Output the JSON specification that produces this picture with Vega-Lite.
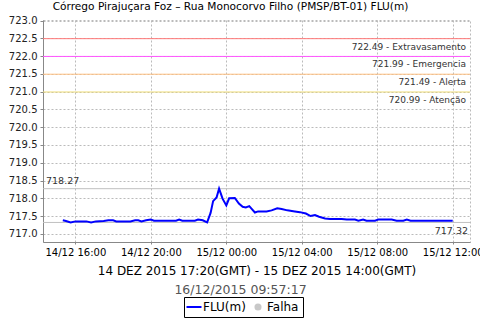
{
  "$schema": "https://vega.github.io/schema/vega-lite/v6.json",
  "width": 427,
  "height": 222,
  "autosize": "none",
  "padding": {"left": 43, "top": 20, "right": 10, "bottom": 78},
  "background": "white",
  "title": {"text": "Córrego Pirajuçara Foz  – Rua Monocorvo Filho (PMSP/BT-01) FLU(m)", "font": "DejaVu Sans", "fontSize": 10.6, "fontWeight": "normal", "color": "#000", "anchor": "middle", "dx": -26, "offset": 3},
  "config": {
    "view": {"stroke": "#bbbbbb", "strokeDash": [2, 2]},
    "font": "DejaVu Sans",
    "axis": {"labelFont": "DejaVu Sans", "labelFontSize": 10, "labelColor": "#222", "domainColor": "#888", "tickColor": "#888", "tickSize": 3, "gridColor": "#bbbbbb", "gridOpacity": 1, "gridWidth": 1, "gridDash": [2, 2], "titleFont": "DejaVu Sans", "titleFontWeight": "normal", "titleColor": "#000"}
  },
  "layer": [
    {
      "data": {"values": [
        {"valor": 722.49, "rotulo": "722.49 - Extravasamento"},
        {"valor": 721.99, "rotulo": "721.99 - Emergencia"},
        {"valor": 721.49, "rotulo": "721.49 - Alerta"},
        {"valor": 720.99, "rotulo": "720.99 - Atenção"}
      ]},
      "mark": {"type": "rule", "strokeWidth": 1},
      "encoding": {
        "y": {"field": "valor", "type": "quantitative", "axis": {"title": null, "format": ".1f", "grid": true, "labelOverlap": false, "values": [717, 717.5, 718, 718.5, 719, 719.5, 720, 720.5, 721, 721.5, 722, 722.5, 723], "labelPadding": 3}},
        "stroke": {"field": "rotulo", "type": "nominal", "legend": null, "scale": {"domain": ["722.49 - Extravasamento", "721.99 - Emergencia", "721.49 - Alerta", "720.99 - Atenção"], "range": ["#ff7a7a", "#ff55ff", "#ffc080", "#eedd77"]}}
      }
    },
    {
      "data": {"values": [
        {"valor": 722.49, "rotulo": "722.49 - Extravasamento"},
        {"valor": 721.99, "rotulo": "721.99 - Emergencia"},
        {"valor": 721.49, "rotulo": "721.49 - Alerta"},
        {"valor": 720.99, "rotulo": "720.99 - Atenção"}
      ]},
      "mark": {"type": "text", "align": "right", "baseline": "middle", "dx": -4, "dy": 8, "fontSize": 9, "font": "DejaVu Sans", "color": "#333"},
      "encoding": {
        "x": {"datum": {"year": 2015, "month": 12, "date": 15, "hours": 12, "minutes": 55}, "type": "temporal", "axis": null},
        "y": {"field": "valor", "type": "quantitative", "axis": {"title": null, "format": ".1f", "grid": true, "labelOverlap": false, "values": [717, 717.5, 718, 718.5, 719, 719.5, 720, 720.5, 721, 721.5, 722, 722.5, 723], "labelPadding": 3}},
        "text": {"field": "rotulo"}
      }
    },
    {
      "data": {"values": [{"valor": 718.27}, {"valor": 717.32}]},
      "mark": {"type": "rule", "color": "#c0c0c0", "strokeWidth": 1},
      "encoding": {"y": {"field": "valor", "type": "quantitative", "axis": {"title": null, "format": ".1f", "grid": true, "labelOverlap": false, "values": [717, 717.5, 718, 718.5, 719, 719.5, 720, 720.5, 721, 721.5, 722, 722.5, 723], "labelPadding": 3}}}
    },
    {
      "data": {"values": [{"valor": 718.27}]},
      "mark": {"type": "text", "align": "left", "baseline": "middle", "dx": 3, "dy": -8, "fontSize": 9.5, "font": "DejaVu Sans", "color": "#333"},
      "encoding": {
        "x": {"datum": {"year": 2015, "month": 12, "date": 14, "hours": 14, "minutes": 17}, "type": "temporal", "axis": null},
        "y": {"field": "valor", "type": "quantitative", "axis": {"title": null, "format": ".1f", "grid": true, "labelOverlap": false, "values": [717, 717.5, 718, 718.5, 719, 719.5, 720, 720.5, 721, 721.5, 722, 722.5, 723], "labelPadding": 3}},
        "text": {"field": "valor", "format": ".2f"}
      }
    },
    {
      "data": {"values": [
        {"t": "2015-12-14T15:20:00", "v": 717.38},
        {"t": "2015-12-14T15:30:00", "v": 717.36},
        {"t": "2015-12-14T15:45:00", "v": 717.32},
        {"t": "2015-12-14T16:00:00", "v": 717.35},
        {"t": "2015-12-14T16:20:00", "v": 717.35},
        {"t": "2015-12-14T16:35:00", "v": 717.35},
        {"t": "2015-12-14T16:50:00", "v": 717.32},
        {"t": "2015-12-14T17:05:00", "v": 717.35},
        {"t": "2015-12-14T17:30:00", "v": 717.36},
        {"t": "2015-12-14T17:45:00", "v": 717.38},
        {"t": "2015-12-14T18:00:00", "v": 717.38},
        {"t": "2015-12-14T18:10:00", "v": 717.35},
        {"t": "2015-12-14T18:30:00", "v": 717.35},
        {"t": "2015-12-14T18:55:00", "v": 717.35},
        {"t": "2015-12-14T19:10:00", "v": 717.38},
        {"t": "2015-12-14T19:20:00", "v": 717.38},
        {"t": "2015-12-14T19:30:00", "v": 717.35},
        {"t": "2015-12-14T19:45:00", "v": 717.38},
        {"t": "2015-12-14T20:00:00", "v": 717.40},
        {"t": "2015-12-14T20:10:00", "v": 717.37},
        {"t": "2015-12-14T20:40:00", "v": 717.37},
        {"t": "2015-12-14T21:20:00", "v": 717.37},
        {"t": "2015-12-14T21:30:00", "v": 717.40},
        {"t": "2015-12-14T21:40:00", "v": 717.37},
        {"t": "2015-12-14T22:00:00", "v": 717.37},
        {"t": "2015-12-14T22:20:00", "v": 717.37},
        {"t": "2015-12-14T22:30:00", "v": 717.40},
        {"t": "2015-12-14T22:45:00", "v": 717.38},
        {"t": "2015-12-14T22:59:00", "v": 717.32},
        {"t": "2015-12-14T23:10:00", "v": 717.59},
        {"t": "2015-12-14T23:18:00", "v": 717.92},
        {"t": "2015-12-14T23:29:00", "v": 718.02},
        {"t": "2015-12-14T23:37:00", "v": 718.27},
        {"t": "2015-12-14T23:48:00", "v": 717.99},
        {"t": "2015-12-15T00:00:00", "v": 717.80},
        {"t": "2015-12-15T00:09:00", "v": 718.00},
        {"t": "2015-12-15T00:27:00", "v": 718.01},
        {"t": "2015-12-15T00:40:00", "v": 717.85},
        {"t": "2015-12-15T00:52:00", "v": 717.76},
        {"t": "2015-12-15T01:02:00", "v": 717.74},
        {"t": "2015-12-15T01:13:00", "v": 717.78},
        {"t": "2015-12-15T01:20:00", "v": 717.71},
        {"t": "2015-12-15T01:31:00", "v": 717.60},
        {"t": "2015-12-15T01:41:00", "v": 717.63},
        {"t": "2015-12-15T02:08:00", "v": 717.63},
        {"t": "2015-12-15T02:24:00", "v": 717.66},
        {"t": "2015-12-15T02:42:00", "v": 717.72},
        {"t": "2015-12-15T02:56:00", "v": 717.70},
        {"t": "2015-12-15T03:14:00", "v": 717.66},
        {"t": "2015-12-15T03:38:00", "v": 717.63},
        {"t": "2015-12-15T03:54:00", "v": 717.61},
        {"t": "2015-12-15T04:13:00", "v": 717.57},
        {"t": "2015-12-15T04:28:00", "v": 717.50},
        {"t": "2015-12-15T04:42:00", "v": 717.53},
        {"t": "2015-12-15T04:55:00", "v": 717.48},
        {"t": "2015-12-15T05:14:00", "v": 717.43},
        {"t": "2015-12-15T05:30:00", "v": 717.42},
        {"t": "2015-12-15T06:07:00", "v": 717.42},
        {"t": "2015-12-15T06:23:00", "v": 717.40},
        {"t": "2015-12-15T06:49:00", "v": 717.40},
        {"t": "2015-12-15T07:00:00", "v": 717.37},
        {"t": "2015-12-15T07:15:00", "v": 717.40},
        {"t": "2015-12-15T07:26:00", "v": 717.37},
        {"t": "2015-12-15T07:53:00", "v": 717.37},
        {"t": "2015-12-15T08:03:00", "v": 717.40},
        {"t": "2015-12-15T08:46:00", "v": 717.40},
        {"t": "2015-12-15T09:02:00", "v": 717.37},
        {"t": "2015-12-15T09:23:00", "v": 717.37},
        {"t": "2015-12-15T09:34:00", "v": 717.40},
        {"t": "2015-12-15T09:46:00", "v": 717.37},
        {"t": "2015-12-15T12:00:00", "v": 717.37}
      ]},
      "mark": {"type": "line", "strokeWidth": 2},
      "encoding": {
        "x": {
          "field": "t", "type": "temporal",
          "scale": {"domain": [{"year": 2015, "month": 12, "date": 14, "hours": 14, "minutes": 17}, {"year": 2015, "month": 12, "date": 15, "hours": 12, "minutes": 55}]},
          "axis": {
            "orient": "bottom",
            "title": "14 DEZ 2015 17:20(GMT) - 15 DEZ 2015 14:00(GMT)",
            "titleFontSize": 12,
            "titlePadding": 8,
            "format": "%d/%m %H:%M",
            "labelColor": "#000",
            "tickSize": 2,
            "labelPadding": 3,
            "labelFlush": false,
            "labelOverlap": false,
            "grid": true,
            "values": [
              {"year": 2015, "month": 12, "date": 14, "hours": 16},
              {"year": 2015, "month": 12, "date": 14, "hours": 20},
              {"year": 2015, "month": 12, "date": 15, "hours": 0},
              {"year": 2015, "month": 12, "date": 15, "hours": 4},
              {"year": 2015, "month": 12, "date": 15, "hours": 8},
              {"year": 2015, "month": 12, "date": 15, "hours": 12}
            ]
          }
        },
        "y": {
          "field": "v", "type": "quantitative",
          "scale": {"domain": [716.77, 723.015], "nice": false, "zero": false},
          "axis": {"title": null, "format": ".1f", "grid": true, "labelOverlap": false, "values": [717, 717.5, 718, 718.5, 719, 719.5, 720, 720.5, 721, 721.5, 722, 722.5, 723], "labelPadding": 3}
        },
        "color": {
          "datum": "FLU(m)",
          "scale": {"domain": ["FLU(m)", "Falha"], "range": ["#0000ff", "#c0c0c0"]},
          "legend": {
            "orient": "none", "legendX": 141, "legendY": 277,
            "direction": "horizontal", "title": null,
            "strokeColor": "#000", "padding": 4,
            "labelFont": "DejaVu Sans", "labelFontSize": 12, "labelColor": "#000",
            "symbolSize": 225, "symbolStrokeWidth": 2, "columnPadding": 6, "labelOffset": 3,
            "encode": {"symbols": {"update": {
              "shape": {"signal": "datum.value === 'Falha' ? 'circle' : 'stroke'"},
              "fill": {"signal": "datum.value === 'Falha' ? '#c8c8c8' : 'transparent'"},
              "size": {"signal": "datum.value === 'Falha' ? 50 : 225"},
              "strokeWidth": {"signal": "datum.value === 'Falha' ? 0 : 2"}
            }}}
          }
        }
      }
    },
    {
      "data": {"values": [{"valor": 717.32}]},
      "mark": {"type": "text", "align": "right", "baseline": "middle", "dx": -2, "dy": 9, "fontSize": 9.5, "font": "DejaVu Sans", "color": "#333"},
      "encoding": {
        "x": {
          "datum": {"year": 2015, "month": 12, "date": 15, "hours": 12, "minutes": 55}, "type": "temporal",
          "axis": {"orient": "bottom", "labels": false, "ticks": false, "domain": false, "grid": false, "title": "16/12/2015 09:57:17", "titleColor": "#555", "titleFontSize": 12.5, "titleX": 197, "titleY": 41, "titleAlign": "center", "titleBaseline": "top"}
        },
        "y": {"field": "valor", "type": "quantitative", "axis": {"title": null, "format": ".1f", "grid": true, "labelOverlap": false, "values": [717, 717.5, 718, 718.5, 719, 719.5, 720, 720.5, 721, 721.5, 722, 722.5, 723], "labelPadding": 3}},
        "text": {"field": "valor", "format": ".2f"}
      }
    }
  ],
  "resolve": {"axis": {"x": "independent"}}
}
